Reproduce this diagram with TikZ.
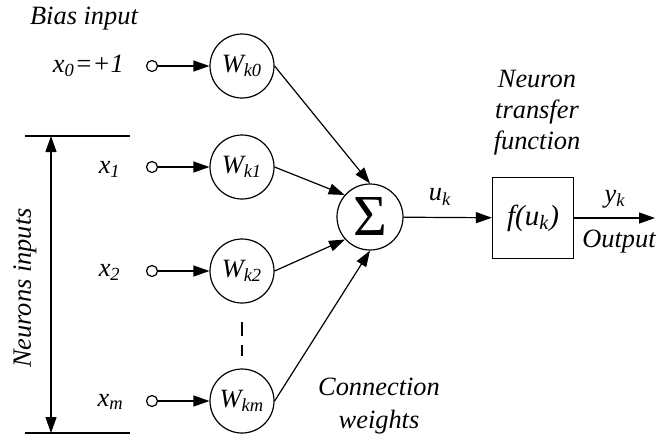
\documentclass[tikz,border=0pt]{standalone}
\usepackage{fontspec}
\setmainfont{Liberation Serif}
\usetikzlibrary{arrows.meta}

\begin{document}
\begin{tikzpicture}[x=0.5pt, y=-0.5pt, line width=0.6pt,
    every node/.style={font=\fontsize{13.2}{15.5}\selectfont\itshape},
    wt/.style={circle, draw, minimum size=32pt, inner sep=0pt},
    pin/.style={circle, draw, minimum size=5.5pt, inner sep=0pt},
    con/.style={-{Triangle[length=8pt,width=5.5pt]}}
  ]
  \useasboundingbox (0,0) rectangle (656,440);

  % inputs
  \node (bias) at (84,19) {Bias input};
  \node[anchor=east] (lx0) at (131,66) {x\textsubscript{0}=+1};
  \node[anchor=east] (lx1) at (128,169) {x\textsubscript{1}};
  \node[anchor=east] (lx2) at (128,272) {x\textsubscript{2}};
  \node[anchor=east] (lxm) at (131,402) {x\textsubscript{m}};
  \node[pin] (in0) at (152,66) {};
  \node[pin] (in1) at (152,167) {};
  \node[pin] (in2) at (152,271) {};
  \node[pin] (inm) at (152,401) {};

  % weights
  \node[wt] (w0) at (242,66)  {W\textsubscript{k0}};
  \node[wt] (w1) at (242,167) {W\textsubscript{k1}};
  \node[wt] (w2) at (242,271) {W\textsubscript{k2}};
  \node[wt] (wm) at (242,401) {W\textsubscript{km}};
  \coordinate (d1) at (242,322);
  \coordinate (d2) at (242,356);
  \draw[dash pattern=on 7pt off 4.5pt] (d1) -- (d2);

  \draw[con] (in0) -- (w0);
  \draw[con] (in1) -- (w1);
  \draw[con] (in2) -- (w2);
  \draw[con] (inm) -- (wm);

  % summing junction and transfer
  \node[wt, minimum size=33pt, font=\fontsize{29}{29}\selectfont\upshape] (sum) at (370,217) {Σ};
  \node[draw, minimum size=40.5pt, inner sep=0pt, font=\fontsize{14.5}{15.5}\selectfont\itshape] (fbox) at (533,218) {f(u\textsubscript{k})};
  \coordinate (out) at (655,218);

  \draw[con] (w0.east) -- (sum.north);
  \draw[con] (w1.east) -- (sum.139);
  \draw[con] (w2.east) -- (sum.222);
  \draw[con] (wm.east) -- (sum.south);
  \draw[con] (sum) -- (fbox);
  \draw[con] (fbox) -- (out);

  \node (uk) at (440,197) {u\textsubscript{k}};
  \node (yk) at (615,199) {y\textsubscript{k}};
  \node (outlbl) at (619,242) {Output};
  \node[align=center] (tf) at (537,113) {Neuron\\transfer\\function};
  \node[align=center, font=\fontsize{13.2}{16.5}\selectfont\itshape] (cw) at (379,406) {Connection\\weights};

  % bracket over the inputs
  \coordinate (bt1) at (25,136);
  \coordinate (bt2) at (130,136);
  \coordinate (bb1) at (25,433);
  \coordinate (bb2) at (130,433);
  \coordinate (at) at (51,136);
  \coordinate (ab) at (51,433);
  \draw (bt1) -- (bt2);
  \draw (bb1) -- (bb2);
  \draw[{Triangle[length=8pt,width=5.5pt]}-{Triangle[length=8pt,width=5.5pt]}] (at) -- (ab);
  \node[rotate=90] (nin) at (25,288) {Neurons inputs};
\end{tikzpicture}
\end{document}
